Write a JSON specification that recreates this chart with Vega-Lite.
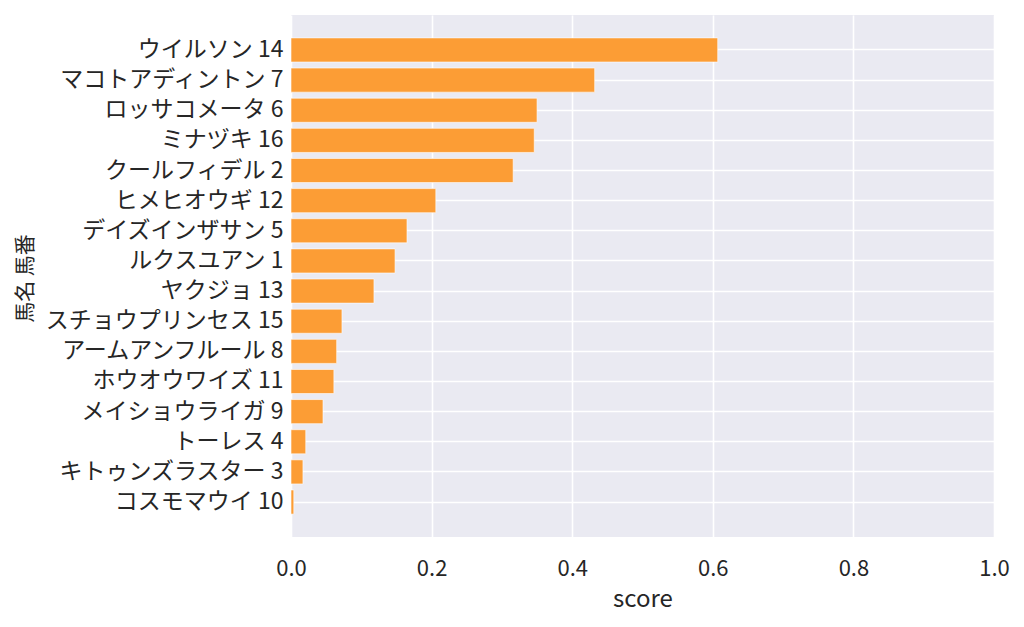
{
  "$schema": "https://vega.github.io/schema/vega-lite/v6.json",
  "width": 703,
  "height": 522,
  "autosize": "none",
  "padding": {"left": 291, "top": 15, "right": 30, "bottom": 90},
  "background": "white",
  "config": {
    "font": "Noto Sans CJK JP",
    "view": {"fill": "#eaeaf2", "stroke": null}
  },
  "data": {
    "values": [
      {"name": "ウイルソン 14", "score": 0.607},
      {"name": "マコトアディントン 7", "score": 0.432},
      {"name": "ロッサコメータ 6", "score": 0.350},
      {"name": "ミナヅキ 16", "score": 0.346},
      {"name": "クールフィデル 2", "score": 0.316},
      {"name": "ヒメヒオウギ 12", "score": 0.206},
      {"name": "デイズインザサン 5", "score": 0.165},
      {"name": "ルクスユアン 1", "score": 0.148},
      {"name": "ヤクジョ 13", "score": 0.118},
      {"name": "スチョウプリンセス 15", "score": 0.0725},
      {"name": "アームアンフルール 8", "score": 0.065},
      {"name": "ホウオウワイズ 11", "score": 0.061},
      {"name": "メイショウライガ 9", "score": 0.0455},
      {"name": "トーレス 4", "score": 0.021},
      {"name": "キトゥンズラスター 3", "score": 0.017},
      {"name": "コスモマウイ 10", "score": 0.004}
    ]
  },
  "mark": {"type": "bar", "color": "#fc9d35", "stroke": "white", "strokeWidth": 1, "strokeOpacity": 0.6},
  "encoding": {
    "y": {
      "field": "name",
      "type": "nominal",
      "sort": "-x",
      "title": "馬名 馬番",
      "scale": {"paddingInner": 0.2, "paddingOuter": 0.76},
      "axis": {
        "bandPosition": 0.5,
        "grid": true,
        "gridColor": "white",
        "gridWidth": 1.6,
        "domain": false,
        "ticks": false,
        "labelPadding": 8,
        "labelLimit": 400,
        "labelFontSize": 23,
        "labelColor": "#262626",
        "titleFontSize": 21,
        "titleFontWeight": "normal",
        "titleColor": "#262626",
        "titleAngle": -90,
        "titleX": -266,
        "titleY": 263,
        "titleBaseline": "middle",
        "titleAlign": "center"
      }
    },
    "x": {
      "field": "score",
      "type": "quantitative",
      "title": "score",
      "scale": {"domain": [0, 1]},
      "axis": {
        "values": [0, 0.2, 0.4, 0.6, 0.8, 1.0],
        "format": ".1f",
        "grid": true,
        "gridColor": "white",
        "gridWidth": 1.6,
        "domain": false,
        "ticks": false,
        "labelFlush": false,
        "labelPadding": 21,
        "titlePadding": 8,
        "labelFontSize": 22,
        "labelColor": "#262626",
        "titleFontSize": 24,
        "titleFontWeight": "normal",
        "titleColor": "#262626"
      }
    }
  }
}
